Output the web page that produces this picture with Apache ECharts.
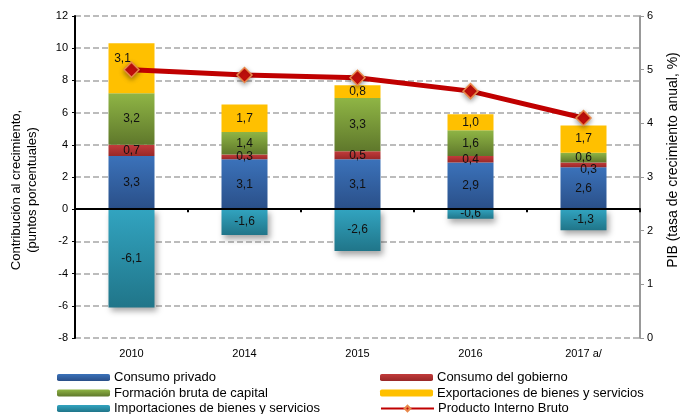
<!DOCTYPE html>
<html>
<head>
<meta charset="utf-8">
<script src="https://cdn.jsdelivr.net/npm/echarts@6/dist/echarts.min.js"></script>
<style>
  html, body { margin: 0; padding: 0; background: #fff; }
  #chart { width: 682px; height: 414px; }
</style>
</head>
<body>
<div id="chart"></div>
<script>
// Contribución al crecimiento del PIB por componente del gasto
const years = ['2010', '2014', '2015', '2016', '2017 a/'];
const consumoPrivado = [3.3, 3.1, 3.1, 2.9, 2.6];
const consumoGobierno = [0.7, 0.3, 0.5, 0.4, 0.3];
const formacionCapital = [3.2, 1.4, 3.3, 1.6, 0.6];
const exportaciones = [3.1, 1.7, 0.8, 1.0, 1.7];
const importaciones = [-6.1, -1.6, -2.6, -0.6, -1.3];
const pib = [5.0, 4.9, 4.85, 4.6, 4.1];
const leftTicks = [-8, 12, 2];
const rightTicks = [0, 6, 1];
const leftTitle = 'Contribución al crecimiento,\n(puntos porcentuales)';
const rightTitle = 'PIB (tasa de crecimiento anual, %)';

const FONT = '"Liberation Sans", Arial, sans-serif';

function grad(top, bottom) {
  return {
    type: 'linear', x: 0, y: 0, x2: 0, y2: 1,
    colorStops: [{ offset: 0, color: top }, { offset: 1, color: bottom }]
  };
}
const comma = p => p.value.toFixed(1).replace('.', ',');

function barSeries(name, data, color, extra) {
  return Object.assign({
    name: name,
    type: 'bar',
    stack: 'total',
    barWidth: 46,
    data: data,
    itemStyle: { color: color },
    label: {
      show: true, position: 'inside', formatter: comma,
      color: '#111', fontFamily: FONT, fontSize: 12
    },
    z: 2
  }, extra || {});
}

// one legend entry per slot: two columns, three rows
const legendRows = [
  ['Consumo privado', 'Consumo del gobierno'],
  ['Formación bruta de capital', 'Exportaciones de bienes y servicios'],
  ['Importaciones de bienes y servicios', 'Producto Interno Bruto']
];
const legends = [];
legendRows.forEach((row, r) => {
  row.forEach((name, c) => {
    legends.push({
      left: c === 0 ? 57 : 380, top: 371 + r * 15.5,
      orient: 'horizontal', itemWidth: 53, itemHeight: 7, padding: 0,
      textStyle: { color: '#000', fontSize: 13, fontFamily: FONT, padding: [0, 0, 0, -1] },
      data: [name]
    });
  });
});

const chart = echarts.init(document.getElementById('chart'), null, { renderer: 'canvas' });

chart.setOption({
  animation: false,
  textStyle: { fontFamily: FONT },
  grid: { left: 75, right: 42, top: 16, bottom: 76, outerBoundsMode: 'none', containLabel: false },
  // rotated axis titles
  graphic: [
    {
      type: 'text', x: 24, y: 190, rotation: Math.PI / 2,
      style: {
        text: leftTitle, fill: '#000', font: '13px ' + FONT, lineHeight: 16,
        align: 'center', verticalAlign: 'middle'
      }
    },
    {
      type: 'text', x: 673, y: 160, rotation: Math.PI / 2,
      style: {
        text: rightTitle, fill: '#000', font: '14px ' + FONT,
        align: 'center', verticalAlign: 'middle'
      }
    }
  ],
  xAxis: [
    {
      type: 'category', data: years, position: 'bottom',
      axisLine: { onZero: true, onZeroAxisIndex: 0, lineStyle: { color: '#000', width: 2 } },
      axisTick: { show: true, length: 3, lineStyle: { color: '#000', width: 2 } },
      axisLabel: { show: false },
      z: 5
    },
    {
      type: 'category', data: years, position: 'bottom',
      axisLine: { show: false, onZero: false },
      axisTick: { show: false },
      axisLabel: { color: '#000', fontSize: 11, margin: 10, fontFamily: FONT }
    }
  ],
  yAxis: [
    {
      type: 'value', min: leftTicks[0], max: leftTicks[1], interval: leftTicks[2],
      position: 'left',
      axisLine: { show: true, lineStyle: { color: '#000', width: 2 } },
      axisTick: { show: true, length: 3, lineStyle: { color: '#000' } },
      axisLabel: { color: '#000', fontSize: 11, margin: 7, fontFamily: FONT },
      splitLine: { show: true, lineStyle: { color: '#a6a6a6', type: [6, 3], width: 1.5 } }
    },
    {
      type: 'value', min: rightTicks[0], max: rightTicks[1], interval: rightTicks[2],
      position: 'right',
      axisLine: { show: true, lineStyle: { color: '#999', width: 2 } },
      axisTick: { show: true, length: 4, lineStyle: { color: '#999' } },
      axisLabel: { color: '#000', fontSize: 11, margin: 7, fontFamily: FONT },
      splitLine: { show: false }
    }
  ],
  legend: legends,
  series: [
    barSeries('Consumo privado', consumoPrivado, grad('#3b72ba', '#2a4f88')),
    barSeries('Consumo del gobierno', consumoGobierno.map((v, i) => i === 4
      ? { value: v, label: { offset: [5, 5] } } : v), grad('#c23b3b', '#982828')),
    barSeries('Formación bruta de capital', formacionCapital, grad('#8fb545', '#5f782b')),
    barSeries('Exportaciones de bienes y servicios', exportaciones.map((v, i) => i === 0
      ? { value: v, label: { offset: [-9, -10] } } : v), '#ffc000'),
    barSeries('Importaciones de bienes y servicios', importaciones, grad('#32a4c0', '#207589'), {
      itemStyle: {
        color: grad('#32a4c0', '#207589'),
        shadowColor: 'rgba(0,0,0,0.35)', shadowBlur: 6, shadowOffsetX: 2, shadowOffsetY: 4
      }
    }),
    {
      name: 'Producto Interno Bruto',
      type: 'line',
      yAxisIndex: 1,
      data: pib,
      symbol: 'diamond',
      symbolSize: 15,
      lineStyle: { color: '#c00000', width: 5 },
      itemStyle: {
        color: '#c8100c', borderColor: '#e8884a', borderWidth: 1.5,
        shadowColor: 'rgba(0,0,0,0.35)', shadowBlur: 5, shadowOffsetY: 2
      },
      z: 10
    }
  ]
});
</script>
</body>
</html>
